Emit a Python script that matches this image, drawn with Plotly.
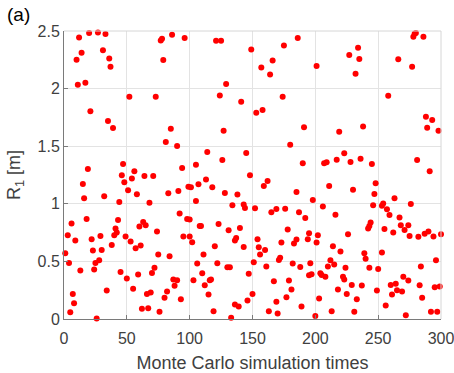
import plotly.graph_objects as go

# Monte Carlo trial index and R1 value [m]
trial = [
    12, 20, 27, 33, 14, 10, 31, 36, 37, 11, 17, 21, 35, 39, 19, 15, 16, 32, 44, 18,
    43, 6, 3, 9, 22, 29, 41, 40, 42, 38, 23, 30, 1, 4, 28, 25, 13, 24, 45, 34,
    7, 8, 5, 26,
    77, 78, 86, 96, 79, 52, 73, 85, 81, 90, 47, 46, 56, 48, 54, 64, 71, 94, 51, 58,
    83, 91, 68, 92, 63, 65, 60, 74, 49, 53, 57, 61, 95, 75, 84, 50, 59, 70, 72, 55,
    87, 90, 88, 82, 69, 66, 80, 93, 62, 67, 76,
    121, 125, 129, 124, 141, 127, 114, 145, 126, 105, 148, 99, 101, 107, 113, 118, 105, 128, 138, 134,
    143, 144, 98, 100, 108, 109, 123, 100, 102, 131, 140, 137, 136, 120, 143, 111, 106, 122, 130, 132,
    110, 147, 103, 116, 117, 112, 115, 146, 136, 139, 119, 133,
    186, 149, 175, 166, 157, 164, 174, 153, 158, 191, 180, 190, 162, 159, 185, 198, 152, 165, 169, 176,
    187, 192, 178, 195, 154, 173, 185, 183, 194, 155, 160, 156, 172, 171, 151, 161, 182, 188, 196, 195,
    197, 167, 179, 181, 150, 177, 169, 189, 163, 170, 200,
    234, 227, 235, 232, 201, 219, 238, 223, 207, 209, 217, 228, 236, 245, 211, 230, 248, 247, 206, 246,
    216, 244, 243, 242, 202, 201, 226, 214, 220, 239, 240, 212, 210, 215, 224, 243, 250, 204, 205, 208,
    222, 223, 229, 237, 218, 249, 225, 203, 233, 213, 231,
    279, 280, 278, 286, 266, 277, 258, 288, 293, 289, 298, 281, 291, 263, 254, 253, 276, 257, 259, 267,
    255, 268, 274, 271, 262, 275, 282, 287, 290, 294, 300, 253, 296, 284, 270, 274, 264, 260, 265, 269,
    261, 283, 295, 299, 285, 256, 272, 292, 297,
]

r1 = [
    2.444, 2.482, 2.488, 2.473, 2.311, 2.251, 2.332, 2.262, 2.190, 2.034, 2.051, 1.803, 1.719, 1.658, 1.302, 1.172, 1.048, 1.065, 1.016, 0.869,
    0.860, 0.828, 0.727, 0.681, 0.692, 0.721, 0.785, 0.727, 0.750, 0.643, 0.594, 0.600, 0.571, 0.487, 0.510, 0.487, 0.421, 0.429, 0.409, 0.247,
    0.218, 0.137, 0.059, 0.004,
    2.418, 2.433, 2.467, 2.439, 2.248, 1.930, 1.930, 1.652, 1.537, 1.502, 1.346, 1.247, 1.282, 1.187, 1.219, 1.242, 1.242, 1.311, 1.117, 1.083,
    1.091, 1.112, 1.010, 0.915, 0.843, 0.814, 0.802, 0.759, 0.716, 0.672, 0.614, 0.637, 0.716, 0.559, 0.545, 0.351, 0.386, 0.400, 0.444, 0.262,
    0.343, 0.337, 0.288, 0.239, 0.230, 0.218, 0.184, 0.172, 0.088, 0.094, 0.062,
    2.415, 2.415, 2.040, 1.941, 1.886, 1.635, 1.450, 1.441, 1.380, 1.340, 1.247, 1.149, 1.143, 1.169, 1.210, 1.143, 1.025, 1.094, 1.080, 0.987,
    0.993, 0.964, 0.869, 0.863, 0.808, 0.808, 0.825, 0.716, 0.666, 0.770, 0.791, 0.704, 0.681, 0.632, 0.626, 0.559, 0.481, 0.484, 0.450, 0.450,
    0.398, 0.392, 0.337, 0.337, 0.343, 0.293, 0.212, 0.160, 0.126, 0.108, 0.068, 0.010,
    2.439, 2.340, 2.375, 2.245, 2.184, 2.123, 1.930, 1.791, 1.814, 1.664, 1.513, 1.352, 1.198, 1.155, 1.103, 1.034, 0.961, 0.927, 0.955, 0.958,
    0.927, 0.877, 0.776, 0.744, 0.692, 0.663, 0.690, 0.655, 0.692, 0.623, 0.600, 0.559, 0.531, 0.513, 0.493, 0.455, 0.481, 0.452, 0.484, 0.380,
    0.389, 0.328, 0.334, 0.256, 0.218, 0.189, 0.149, 0.108, 0.068, 0.048, 0.025,
    2.355, 2.291, 2.256, 2.129, 2.196, 1.626, 1.670, 1.438, 1.352, 1.360, 1.383, 1.363, 1.392, 1.346, 1.155, 1.123, 1.178, 1.086, 0.976, 0.987,
    0.906, 0.837, 0.808, 0.785, 0.727, 0.663, 0.736, 0.632, 0.585, 0.571, 0.522, 0.510, 0.455, 0.473, 0.444, 0.444, 0.435, 0.398, 0.383, 0.366,
    0.366, 0.343, 0.296, 0.291, 0.256, 0.247, 0.218, 0.178, 0.172, 0.068, 0.062,
    2.476, 2.482, 2.450, 2.450, 2.254, 2.190, 1.938, 1.756, 1.727, 1.661, 1.635, 1.380, 1.282, 1.048, 1.002, 0.984, 0.999, 0.953, 0.903, 0.880,
    0.782, 0.814, 0.814, 0.773, 0.750, 0.721, 0.713, 0.739, 0.759, 0.716, 0.736, 0.577, 0.510, 0.455, 0.366, 0.334, 0.305, 0.296, 0.250, 0.239,
    0.212, 0.293, 0.276, 0.282, 0.184, 0.117, 0.033, 0.062, 0.062,
]

x_ticks = [0, 50, 100, 150, 200, 250, 300]
y_ticks = [0, 0.5, 1, 1.5, 2, 2.5]
y_tick_text = ["0", "0.5", "1", "1.5", "2", "2.5"]

FONT = "Liberation Sans, Arial, sans-serif"

fig = go.Figure()
fig.add_trace(go.Scatter(
    x=trial, y=r1, mode="markers",
    marker=dict(color="#ff0000", size=6, line=dict(width=0)),
    showlegend=False, cliponaxis=False, hoverinfo="skip",
))

axis_common = dict(
    showgrid=True, gridcolor="#e3e3e3", gridwidth=1,
    zeroline=False, showline=True, linecolor="#7a7a7a", linewidth=1,
    ticks="inside", ticklen=4, tickcolor="#7a7a7a",
    ticklabeloverflow="allow",
    tickfont=dict(family=FONT, size=16, color="#404040"),
)

fig.update_layout(
    width=454, height=373,
    margin=dict(l=64, r=13, t=31, b=54, autoexpand=False),
    paper_bgcolor="white", plot_bgcolor="white",
    xaxis=dict(range=[0, 300], tickvals=x_ticks, ticklabelstandoff=5, **axis_common,
               title=dict(text="Monte Carlo simulation times", standoff=10,
                          font=dict(family=FONT, size=18, color="#404040"))),
    yaxis=dict(range=[0, 2.5], tickvals=y_ticks, ticktext=y_tick_text, **axis_common,
               title=dict(text="R<sub>1</sub> [m]", standoff=12,
                          font=dict(family=FONT, size=18, color="#404040"))),
    shapes=[
        dict(type="line", xref="paper", yref="paper", x0=0, x1=1, y0=1, y1=1,
             line=dict(color="#d6d6d6", width=1)),
        dict(type="line", xref="paper", yref="paper", x0=1, x1=1, y0=0, y1=1,
             line=dict(color="#d6d6d6", width=1)),
    ],
    annotations=[
        dict(text="(a)", xref="paper", yref="paper", x=-0.156, y=1.059,
             xanchor="left", yanchor="middle", showarrow=False,
             font=dict(family=FONT, size=19, color="black")),
    ],
)

fig.write_html("out.html", config={"displayModeBar": False},
               post_script="document.body.style.margin='0';document.body.style.overflow='hidden';")
